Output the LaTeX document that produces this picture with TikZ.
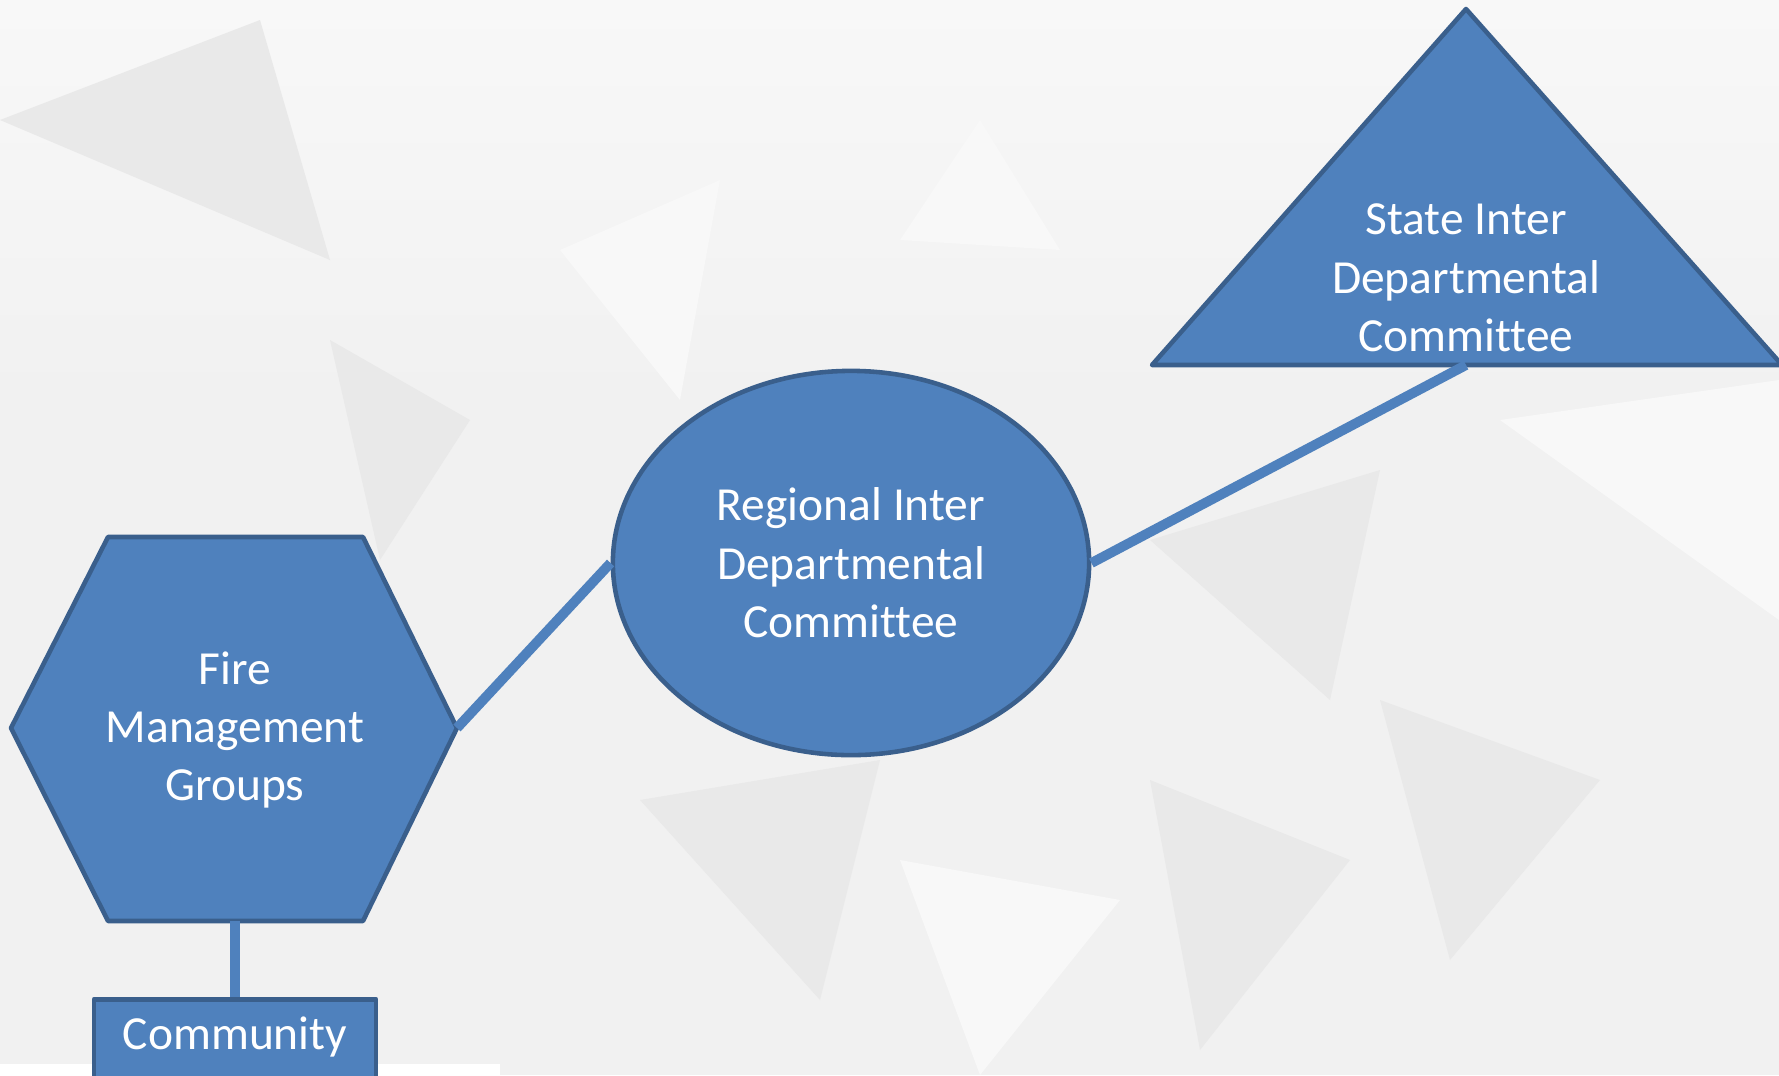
\documentclass[tikz,border=0pt]{standalone}
\usepackage{fontspec}
\setmainfont[Ligatures=CommonOff]{Carlito}
\usetikzlibrary{shapes.geometric}
\definecolor{boxblue}{HTML}{4F81BD}
\definecolor{boxedge}{HTML}{3A5F8C}
\definecolor{bgpale}{HTML}{F1F1F1}
\definecolor{bgshade}{HTML}{E9E9E9}
\definecolor{bglight}{HTML}{F8F8F8}
\tikzset{
  shapebox/.style={fill=boxblue, draw=boxedge, line width=1.3pt, line join=round},
  labeltext/.style={text=white, font=\fontsize{13.5}{16.6}\selectfont, align=center},
  link/.style={draw=boxblue, line width=2.8pt},
}
\begin{document}
\begin{tikzpicture}[x=0.01cm, y=-0.01cm]
  \clip (0,0) rectangle (1779,1075);
  \useasboundingbox (0,0) rectangle (1779,1075);
  % background
  \fill[bgpale] (0,0) rectangle (1779,1075);
  \shade[top color=bglight, bottom color=bgpale] (0,0) rectangle (1779,400);
  \fill[bgshade] (0,120) -- (260,20) -- (330,260) -- cycle;
  \fill[bglight] (560,250) -- (720,180) -- (680,400) -- cycle;
  \fill[bgshade] (330,340) -- (470,420) -- (380,560) -- cycle;
  \fill[bglight] (980,120) -- (1060,250) -- (900,240) -- cycle;
  \fill[bgshade] (1150,540) -- (1380,470) -- (1330,700) -- cycle;
  \fill[bgshade] (1380,700) -- (1600,780) -- (1450,960) -- cycle;
  \fill[bglight] (1500,420) -- (1779,380) -- (1779,620) -- cycle;
  \fill[bgshade] (640,800) -- (880,760) -- (820,1000) -- cycle;
  \fill[bglight] (900,860) -- (1120,900) -- (980,1075) -- cycle;
  \fill[bgshade] (1150,780) -- (1350,860) -- (1200,1050) -- cycle;
  \fill[white] (0,1064) rectangle (500,1075);

  % state committee (triangle)
  \coordinate (stateTop) at (1466,9);
  \coordinate (stateLeft) at (1152,365);
  \coordinate (stateRight) at (1782,365);
  \coordinate (stateBase) at (1466,365);
  \draw[shapebox] (stateTop) -- (stateRight) -- (stateLeft) -- cycle;
  \node[labeltext] (state) at (1466,278) {State Inter\\Departmental\\Committee};

  % regional committee
  \node[shapebox, ellipse, minimum width=4.76cm, minimum height=3.84cm,
        labeltext] (regional) at (851,563) {Regional Inter\\Departmental\\Committee};

  % fire management groups (hexagon)
  \coordinate (fireW) at (11,728);
  \coordinate (fireNW) at (108,537);
  \coordinate (fireNE) at (363,537);
  \coordinate (fireE) at (457,728);
  \coordinate (fireSE) at (363,921);
  \coordinate (fireSW) at (108,921);
  \coordinate (fireS) at (235,921);
  \draw[shapebox] (fireW) -- (fireNW) -- (fireNE) -- (fireE) -- (fireSE) -- (fireSW) -- cycle;
  \node[labeltext] (fire) at (235,730) {Fire\\Management\\Groups};

  % community
  \node[shapebox, rectangle, minimum width=2.82cm, minimum height=0.92cm,
        labeltext, anchor=north] (community) at (235,997) {};
  \node[labeltext] (communitytext) at (235,1037) {Community};

  % links
  \draw[link] (fireS) -- (community.north);
  \draw[link] (fireE) -- (regional.west);
  \draw[link] (regional.east) -- (stateBase);
\end{tikzpicture}
\end{document}
